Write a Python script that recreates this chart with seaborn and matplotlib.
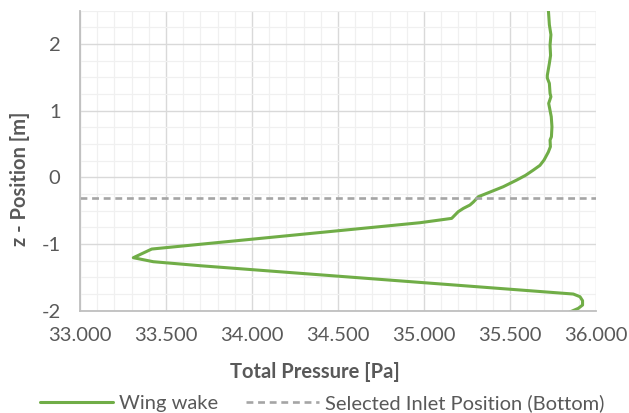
import matplotlib
matplotlib.use("Agg")
import matplotlib.pyplot as plt
import matplotlib.ticker as mticker
import numpy as np
import pandas as pd
import seaborn as sns

# Wing wake profile: total pressure [Pa] against vertical position z [m]
z_position = [2.52, 2.29, 2.14, 1.98, 1.83, 1.71, 1.53, 1.49, 1.41, 1.26,
              1.21, 1.11, 0.91, 0.76, 0.61, 0.56, 0.46, 0.38, 0.26, 0.18,
              0.11, 0.03, -0.04, -0.14, -0.22, -0.29, -0.37, -0.415, -0.465,
              -0.515, -0.615, -0.68, -1.075, -1.205, -1.265, -1.325,
              -1.75, -1.79, -1.85, -1.915, -1.965, -2.04]
total_pressure = [35723, 35729, 35738, 35733, 35736, 35729, 35717, 35717, 35729, 35733,
                  35738, 35725, 35740, 35744, 35741, 35733, 35735, 35723, 35698, 35674,
                  35636, 35590, 35539, 35461, 35384, 35316, 35287, 35267, 35229,
                  35199, 35161, 34977, 33417, 33310, 33426, 33698,
                  35868, 35907, 35922, 35922, 35897, 35830]

inlet_z = -0.31

x_ticks = [33000, 33500, 34000, 34500, 35000, 35500, 36000]
y_ticks = [-2, -1, 0, 1, 2]

wake = pd.DataFrame({"pressure": total_pressure, "z": z_position})

sns.set_theme(style="white")
plt.rcParams["font.family"] = ["Lato", "DejaVu Sans"]
plt.rcParams["axes.unicode_minus"] = False

text_grey = "#595959"
green = "#70AD47"
fs = 14.5

fig = plt.figure(figsize=(6.29, 4.13), dpi=100)
ax = fig.add_axes([0.1272, 0.2477, 0.8203, 0.7263])

sns.lineplot(data=wake, x="pressure", y="z", sort=False, estimator=None,
             color=green, linewidth=2.2, ax=ax, label="Wing wake")
ax.axhline(inlet_z, color="#A5A5A5", linewidth=1.9, linestyle=(0, (2.6, 1.8)),
           label="Selected Inlet Position (Bottom)")

ax.set_xlim(33000, 36000)
ax.set_ylim(-2, 2.5)
ax.set_xticks(x_ticks)
ax.set_yticks(y_ticks)
ax.xaxis.set_minor_locator(mticker.MultipleLocator(100))
ax.yaxis.set_minor_locator(mticker.MultipleLocator(0.25))
ax.xaxis.set_major_formatter(mticker.FuncFormatter(lambda v, p: f"{v:,.0f}".replace(",", ".")))
ax.yaxis.set_major_formatter(mticker.FuncFormatter(lambda v, p: f"{v:.0f}"))

ax.grid(which="major", color="#D9D9D9", linewidth=1.0)
ax.grid(which="minor", color="#F0F0F0", linewidth=0.9)
ax.set_axisbelow(True)

for side in ("top", "right"):
    ax.spines[side].set_visible(False)
for side in ("left", "bottom"):
    ax.spines[side].set_color("#BFBFBF")
    ax.spines[side].set_linewidth(1.3)

ax.tick_params(axis="both", which="both", length=0, labelsize=fs, labelcolor=text_grey)
ax.tick_params(axis="x", pad=12)
ax.tick_params(axis="y", pad=14)

ax.set_xlabel("Total Pressure [Pa]", fontsize=fs, fontweight="bold", color=text_grey)
ax.set_ylabel("z - Position [m]", fontsize=fs, fontweight="bold", color=text_grey)
ax.xaxis.set_label_coords(0.455, -0.204)
ax.xaxis.label.set_va("center")
ax.yaxis.set_label_coords(-0.116, 0.44)
ax.yaxis.label.set_va("center")

handles, labels = ax.get_legend_handles_labels()
ax.legend_.remove()
fig.legend(handles, labels, loc="center", bbox_to_anchor=(0.512, 0.024), ncol=2,
           frameon=False, fontsize=fs, labelcolor=text_grey, handlelength=3.6,
           columnspacing=1.4, handletextpad=0.3, borderaxespad=0, borderpad=0)

fig.savefig("out.png", dpi=100)
